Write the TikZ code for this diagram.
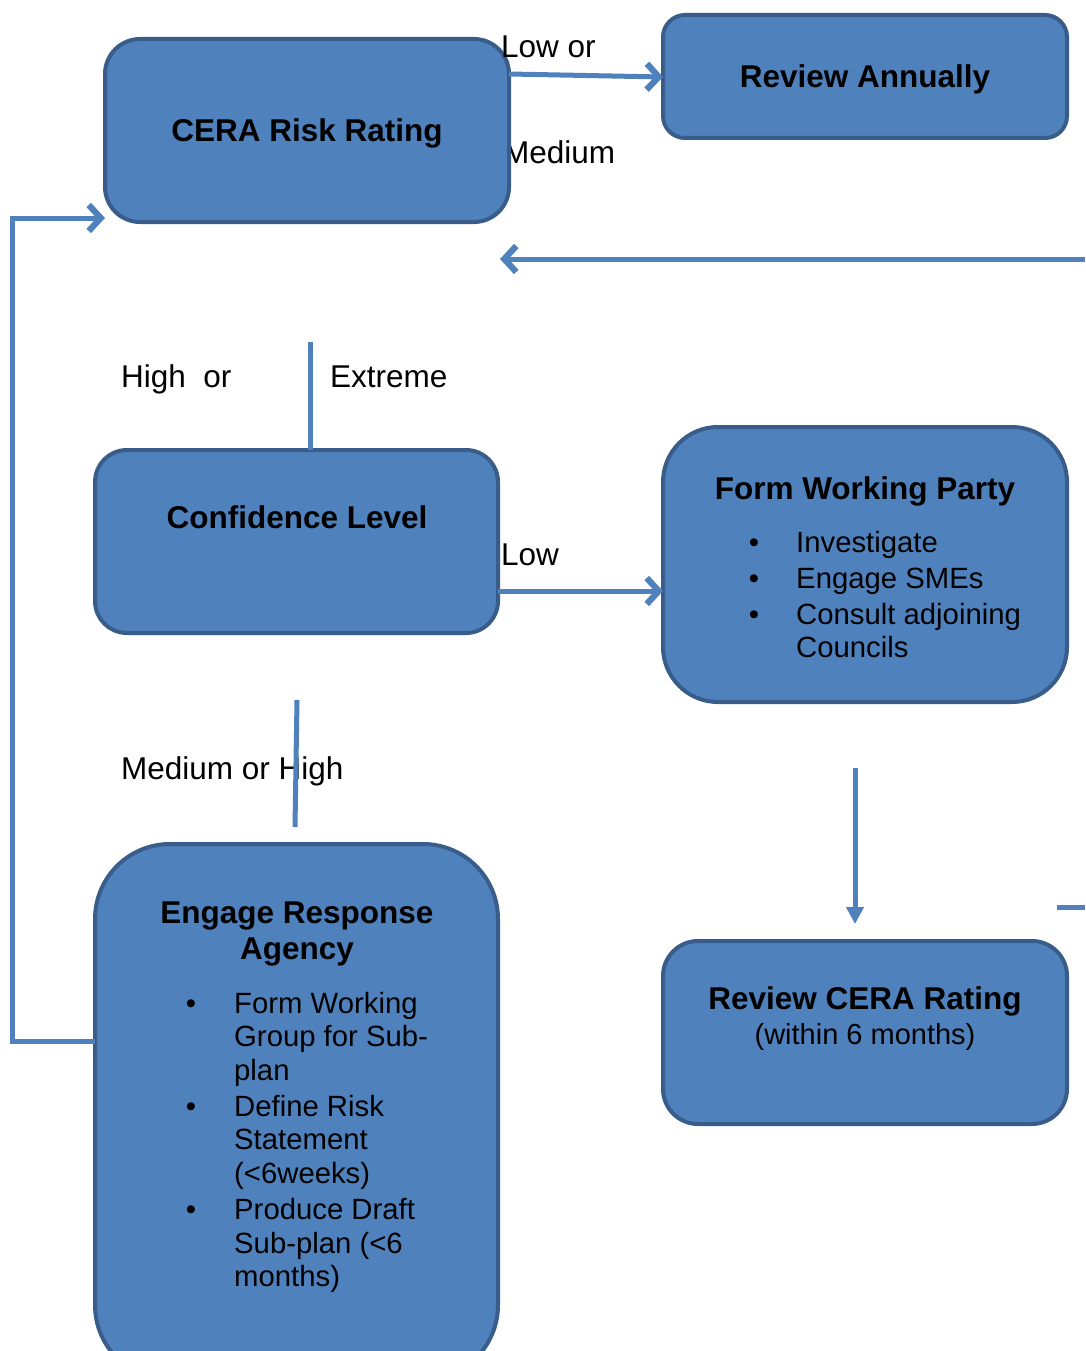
\documentclass[tikz,border=0pt]{standalone}
\usepackage{fontspec}
\setmainfont{Liberation Sans}
\usetikzlibrary{arrows.meta}
\definecolor{boxfill}{HTML}{4F81BD}
\definecolor{boxline}{HTML}{385D8A}
\definecolor{conn}{HTML}{4F81BD}
\begin{document}
\begin{tikzpicture}[x=1pt,y=-1pt,
  box/.style={draw=boxline,line width=4pt,fill=boxfill,inner sep=0pt,outer sep=0pt},
  conline/.style={draw=conn,line width=5pt},
  arr/.style={conline,-{Straight Barb[length=12pt,width=26pt,line width=0pt 1.25]}},
  darr/.style={conline,-{Triangle[length=17pt,width=17pt]}},
  lbl/.style={font=\fontsize{31.5}{36}\selectfont,anchor=base west,inner sep=0pt},
  ttl/.style={font=\bfseries\fontsize{31.5}{36}\selectfont,anchor=base,inner sep=0pt},
  sub/.style={font=\fontsize{29}{33}\selectfont,anchor=base,inner sep=0pt},
  itm/.style={font=\fontsize{29.3}{33}\selectfont,anchor=base west,inner sep=0pt},
  bul/.style={font=\fontsize{29.3}{33}\selectfont,anchor=base,inner sep=0pt}]
\useasboundingbox (0,0) rectangle (1085,1351);
\clip (0,0) rectangle (1085,1351);

% label partly hidden behind box
\node[lbl] (lmed) at (503,164) {Medium};

% boxes
\node[box,rounded corners=35pt,minimum width=404pt,minimum height=183pt] (cera) at (307,130.5) {};
\node[box,rounded corners=22pt,minimum width=404pt,minimum height=123pt] (annual) at (865,76.5) {};
\node[box,rounded corners=32pt,minimum width=403pt,minimum height=183pt] (conf) at (296.5,541.5) {};
\node[box,rounded corners=55pt,minimum width=404pt,minimum height=275pt] (fwp) at (865,564.5) {};
\node[box,rounded corners=75pt,minimum width=403pt,minimum height=536pt] (era) at (296.5,1112) {};
\node[box,rounded corners=35pt,minimum width=404pt,minimum height=183pt] (rcr) at (865,1032.5) {};

% titles
\node[ttl] (tcera) at (307,142) {CERA Risk Rating};
\node[ttl] (tann) at (865,88) {Review Annually};
\node[ttl] (tconf) at (297,528) {Confidence Level};
\node[ttl] (tfwp) at (865,499) {Form Working Party};
\node[ttl] (tera1) at (297,923) {Engage Response};
\node[ttl] (tera2) at (297,959) {Agency};
\node[ttl] (trcr) at (865,1009) {Review CERA Rating};
\node[sub] (trcr2) at (865,1044) {(within 6 months)};

% Form Working Party bullets
\node[bul] (fb1) at (754,552) {\textbullet};
\node[itm] (fi1) at (796,552) {Investigate};
\node[bul] (fb2) at (754,588) {\textbullet};
\node[itm] (fi2) at (796,588) {Engage SMEs};
\node[bul] (fb3) at (754,624) {\textbullet};
\node[itm] (fi3) at (796,624) {Consult adjoining};
\node[itm] (fi3b) at (796,657) {Councils};

% Engage Response Agency bullets
\node[bul] (eb1) at (191,1013) {\textbullet};
\node[itm] (ei1a) at (234,1013) {Form Working};
\node[itm] (ei1b) at (234,1046) {Group for Sub-};
\node[itm] (ei1c) at (234,1080) {plan};
\node[bul] (eb2) at (191,1116) {\textbullet};
\node[itm] (ei2a) at (234,1116) {Define Risk};
\node[itm] (ei2b) at (234,1149) {Statement};
\node[itm] (ei2c) at (234,1183) {(<6weeks)};
\node[bul] (eb3) at (191,1219) {\textbullet};
\node[itm] (ei3a) at (234,1219) {Produce Draft};
\node[itm] (ei3b) at (234,1253) {Sub-plan (<6};
\node[itm] (ei3c) at (234,1286) {months)};

% labels
\node[lbl] (llow) at (501,58) {Low or};
\node[lbl] (lhigh) at (121,387) {High\ \ or};
\node[lbl] (lext) at (330,387) {Extreme};
\node[lbl] (llow2) at (501,565) {Low};
\node[lbl] (lmh) at (121,779) {Medium or High};

% connectors
\draw[arr] ([yshift=-35pt]cera.north east) -- ([yshift=-0.5pt]annual.west);
\coordinate (rstart) at (1085,259);
\coordinate (rtip) at (500,259);
\draw[arr] (rstart) -- (rtip);
\draw[arr] ([yshift=71pt]era.west) -- ++(-83,0) |- ([yshift=-87.5pt]cera.west);
\coordinate (htop) at (310,342);
\draw[conline] (htop) -- ([xshift=13.5pt]conf.north);
\draw[arr] ([yshift=-49.5pt]conf.east) coordinate (c5) -- (fwp.west |- c5);
\coordinate (mtop) at (297,700);
\coordinate (mbot) at (295,827);
\draw[conline] (mtop) -- (mbot);
\coordinate (dtop) at (855,768);
\coordinate (dtip) at (855,924);
\draw[darr] (dtop) -- (dtip);
\coordinate (s1) at (1057,907);
\coordinate (s2) at (1085,907);
\draw[conline] (s1) -- (s2);
\end{tikzpicture}
\end{document}
